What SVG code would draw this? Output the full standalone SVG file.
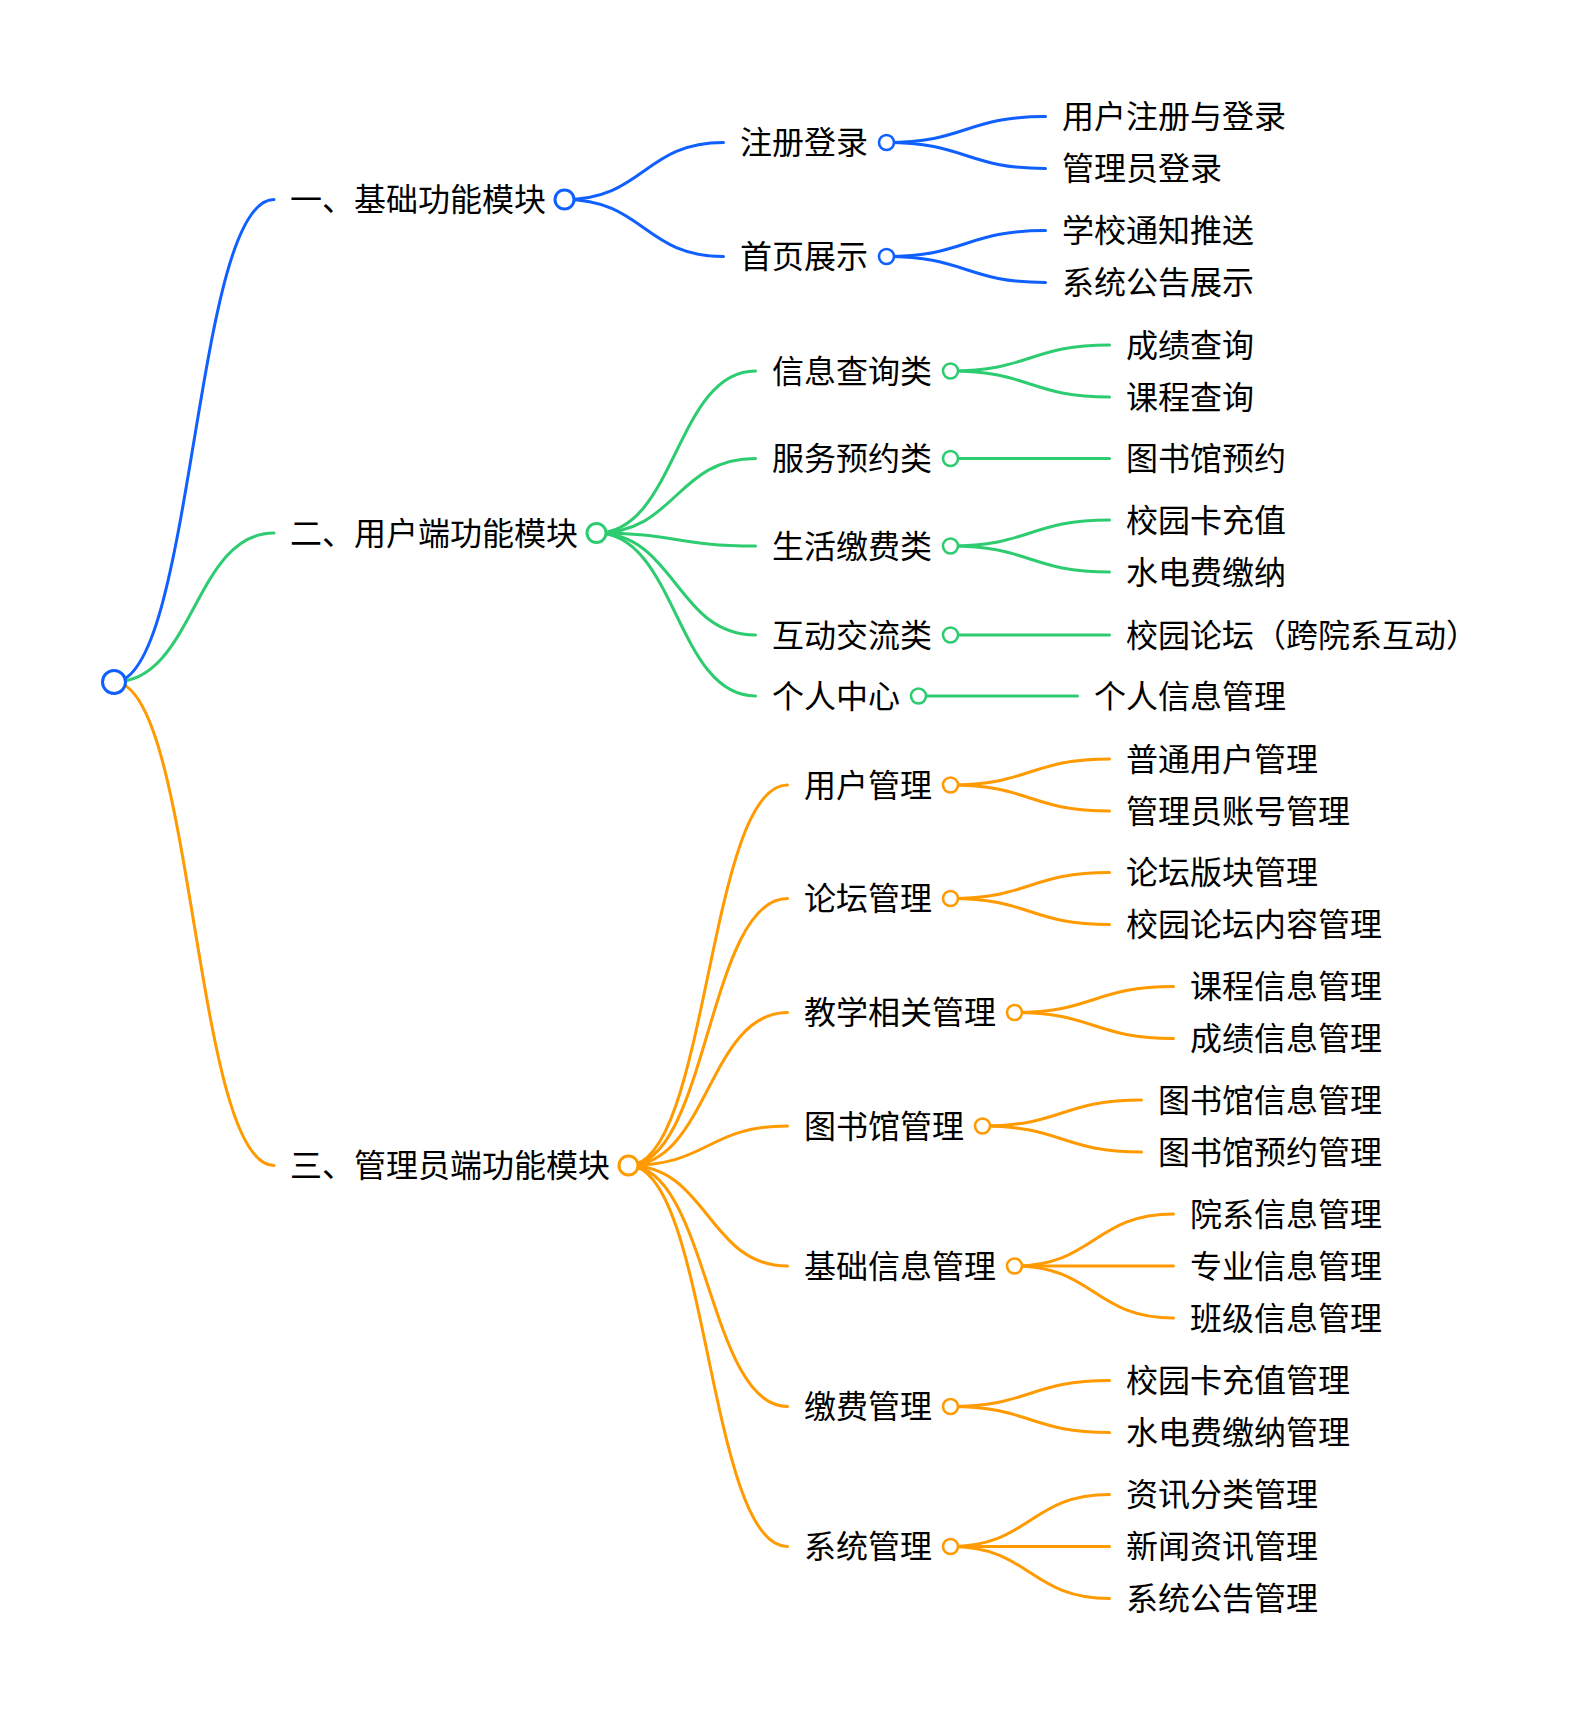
<svg xmlns="http://www.w3.org/2000/svg" width="1576" height="1716" viewBox="0 0 1576 1716">
<style>
text{font-family:"Noto Sans CJK SC","Noto Sans",sans-serif;font-size:32px;fill:#000;dominant-baseline:central;transform:translateY(-2.5px)}
path{fill:none;stroke-linecap:round}
.b{stroke:#1060FF}.g{stroke:#2ECC71}.o{stroke:#FF9A00}
.l0{stroke-width:3}.l1{stroke-width:3}
circle{fill:#fff}
.cb{stroke:#1060FF}.cg{stroke:#2ECC71}.co{stroke:#FF9A00}
.r0{stroke-width:3}.r1{stroke-width:3}.r2{stroke-width:2.6}
</style>
<rect width="1576" height="1716" fill="#fff"/>
<g id="connectors">
<path class="b l0" d="M114,682 C194,682 194,199.5 274,199.5"/>
<path class="g l0" d="M114,682 C194,682 194,533 274,533"/>
<path class="o l0" d="M114,682 C194,682 194,1165.5 274,1165.5"/>

<path class="b l1" d="M564.5,199.5 C644,199.5 644,142.5 723.5,142.5"/>
<path class="b l1" d="M564.5,199.5 C644,199.5 644,256.5 723.5,256.5"/>
<path class="b l1" d="M886.5,142.5 C966,142.5 966,116.5 1045.5,116.5"/>
<path class="b l1" d="M886.5,142.5 C966,142.5 966,168.5 1045.5,168.5"/>
<path class="b l1" d="M886.5,256.5 C966,256.5 966,230.5 1045.5,230.5"/>
<path class="b l1" d="M886.5,256.5 C966,256.5 966,282.5 1045.5,282.5"/>

<path class="g l1" d="M596.5,533 C676,533 676,371 755.5,371"/>
<path class="g l1" d="M596.5,533 C676,533 676,458.5 755.5,458.5"/>
<path class="g l1" d="M596.5,533 C676,533 676,546 755.5,546"/>
<path class="g l1" d="M596.5,533 C676,533 676,635 755.5,635"/>
<path class="g l1" d="M596.5,533 C676,533 676,696 755.5,696"/>
<path class="g l1" d="M950.5,371 C1030,371 1030,345 1109.5,345"/>
<path class="g l1" d="M950.5,371 C1030,371 1030,397 1109.5,397"/>
<path class="g l1" d="M950.5,458.5 L1109.5,458.5"/>
<path class="g l1" d="M950.5,546 C1030,546 1030,520 1109.5,520"/>
<path class="g l1" d="M950.5,546 C1030,546 1030,572 1109.5,572"/>
<path class="g l1" d="M950.5,635 L1109.5,635"/>
<path class="g l1" d="M918.5,696 L1077.5,696"/>

<path class="o l1" d="M628.5,1165.5 C708,1165.5 708,785 787.5,785"/>
<path class="o l1" d="M628.5,1165.5 C708,1165.5 708,898.5 787.5,898.5"/>
<path class="o l1" d="M628.5,1165.5 C708,1165.5 708,1012.5 787.5,1012.5"/>
<path class="o l1" d="M628.5,1165.5 C708,1165.5 708,1126 787.5,1126"/>
<path class="o l1" d="M628.5,1165.5 C708,1165.5 708,1266 787.5,1266"/>
<path class="o l1" d="M628.5,1165.5 C708,1165.5 708,1406.5 787.5,1406.5"/>
<path class="o l1" d="M628.5,1165.5 C708,1165.5 708,1546.5 787.5,1546.5"/>
<path class="o l1" d="M950.5,785 C1030,785 1030,759 1109.5,759"/>
<path class="o l1" d="M950.5,785 C1030,785 1030,811 1109.5,811"/>
<path class="o l1" d="M950.5,898.5 C1030,898.5 1030,872.5 1109.5,872.5"/>
<path class="o l1" d="M950.5,898.5 C1030,898.5 1030,924.5 1109.5,924.5"/>
<path class="o l1" d="M1014.5,1012.5 C1094,1012.5 1094,986.5 1173.5,986.5"/>
<path class="o l1" d="M1014.5,1012.5 C1094,1012.5 1094,1038.5 1173.5,1038.5"/>
<path class="o l1" d="M982.5,1126 C1062,1126 1062,1100 1141.5,1100"/>
<path class="o l1" d="M982.5,1126 C1062,1126 1062,1152 1141.5,1152"/>
<path class="o l1" d="M1014.5,1266 C1094,1266 1094,1214 1173.5,1214"/>
<path class="o l1" d="M1014.5,1266 L1173.5,1266"/>
<path class="o l1" d="M1014.5,1266 C1094,1266 1094,1318 1173.5,1318"/>
<path class="o l1" d="M950.5,1406.5 C1030,1406.5 1030,1380.5 1109.5,1380.5"/>
<path class="o l1" d="M950.5,1406.5 C1030,1406.5 1030,1432.5 1109.5,1432.5"/>
<path class="o l1" d="M950.5,1546.5 C1030,1546.5 1030,1494.5 1109.5,1494.5"/>
<path class="o l1" d="M950.5,1546.5 L1109.5,1546.5"/>
<path class="o l1" d="M950.5,1546.5 C1030,1546.5 1030,1598.5 1109.5,1598.5"/>
</g>

<g id="root"><circle class="cb r0" cx="114" cy="682" r="11.5"/></g>

<g id="n1"><text x="290" y="199.5">一、基础功能模块</text><circle class="cb r1" cx="564.5" cy="199.5" r="9.5"/></g>
<g id="n1-1"><text x="740" y="142.5">注册登录</text><circle class="cb r2" cx="886.5" cy="142.5" r="7.5"/></g>
<g id="n1-1-1"><text x="1062" y="116.5">用户注册与登录</text></g>
<g id="n1-1-2"><text x="1062" y="168.5">管理员登录</text></g>
<g id="n1-2"><text x="740" y="256.5">首页展示</text><circle class="cb r2" cx="886.5" cy="256.5" r="7.5"/></g>
<g id="n1-2-1"><text x="1062" y="230.5">学校通知推送</text></g>
<g id="n1-2-2"><text x="1062" y="282.5">系统公告展示</text></g>

<g id="n2"><text x="290" y="533">二、用户端功能模块</text><circle class="cg r1" cx="596.5" cy="533" r="9.5"/></g>
<g id="n2-1"><text x="772" y="371">信息查询类</text><circle class="cg r2" cx="950.5" cy="371" r="7.5"/></g>
<g id="n2-1-1"><text x="1126" y="345">成绩查询</text></g>
<g id="n2-1-2"><text x="1126" y="397">课程查询</text></g>
<g id="n2-2"><text x="772" y="458.5">服务预约类</text><circle class="cg r2" cx="950.5" cy="458.5" r="7.5"/></g>
<g id="n2-2-1"><text x="1126" y="458.5">图书馆预约</text></g>
<g id="n2-3"><text x="772" y="546">生活缴费类</text><circle class="cg r2" cx="950.5" cy="546" r="7.5"/></g>
<g id="n2-3-1"><text x="1126" y="520">校园卡充值</text></g>
<g id="n2-3-2"><text x="1126" y="572">水电费缴纳</text></g>
<g id="n2-4"><text x="772" y="635">互动交流类</text><circle class="cg r2" cx="950.5" cy="635" r="7.5"/></g>
<g id="n2-4-1"><text x="1126" y="635">校园论坛（跨院系互动）</text></g>
<g id="n2-5"><text x="772" y="696">个人中心</text><circle class="cg r2" cx="918.5" cy="696" r="7.5"/></g>
<g id="n2-5-1"><text x="1094" y="696">个人信息管理</text></g>

<g id="n3"><text x="290" y="1165.5">三、管理员端功能模块</text><circle class="co r1" cx="628.5" cy="1165.5" r="9.5"/></g>
<g id="n3-1"><text x="804" y="785">用户管理</text><circle class="co r2" cx="950.5" cy="785" r="7.5"/></g>
<g id="n3-1-1"><text x="1126" y="759">普通用户管理</text></g>
<g id="n3-1-2"><text x="1126" y="811">管理员账号管理</text></g>
<g id="n3-2"><text x="804" y="898.5">论坛管理</text><circle class="co r2" cx="950.5" cy="898.5" r="7.5"/></g>
<g id="n3-2-1"><text x="1126" y="872.5">论坛版块管理</text></g>
<g id="n3-2-2"><text x="1126" y="924.5">校园论坛内容管理</text></g>
<g id="n3-3"><text x="804" y="1012.5">教学相关管理</text><circle class="co r2" cx="1014.5" cy="1012.5" r="7.5"/></g>
<g id="n3-3-1"><text x="1190" y="986.5">课程信息管理</text></g>
<g id="n3-3-2"><text x="1190" y="1038.5">成绩信息管理</text></g>
<g id="n3-4"><text x="804" y="1126">图书馆管理</text><circle class="co r2" cx="982.5" cy="1126" r="7.5"/></g>
<g id="n3-4-1"><text x="1158" y="1100">图书馆信息管理</text></g>
<g id="n3-4-2"><text x="1158" y="1152">图书馆预约管理</text></g>
<g id="n3-5"><text x="804" y="1266">基础信息管理</text><circle class="co r2" cx="1014.5" cy="1266" r="7.5"/></g>
<g id="n3-5-1"><text x="1190" y="1214">院系信息管理</text></g>
<g id="n3-5-2"><text x="1190" y="1266">专业信息管理</text></g>
<g id="n3-5-3"><text x="1190" y="1318">班级信息管理</text></g>
<g id="n3-6"><text x="804" y="1406.5">缴费管理</text><circle class="co r2" cx="950.5" cy="1406.5" r="7.5"/></g>
<g id="n3-6-1"><text x="1126" y="1380.5">校园卡充值管理</text></g>
<g id="n3-6-2"><text x="1126" y="1432.5">水电费缴纳管理</text></g>
<g id="n3-7"><text x="804" y="1546.5">系统管理</text><circle class="co r2" cx="950.5" cy="1546.5" r="7.5"/></g>
<g id="n3-7-1"><text x="1126" y="1494.5">资讯分类管理</text></g>
<g id="n3-7-2"><text x="1126" y="1546.5">新闻资讯管理</text></g>
<g id="n3-7-3"><text x="1126" y="1598.5">系统公告管理</text></g>
</svg>
